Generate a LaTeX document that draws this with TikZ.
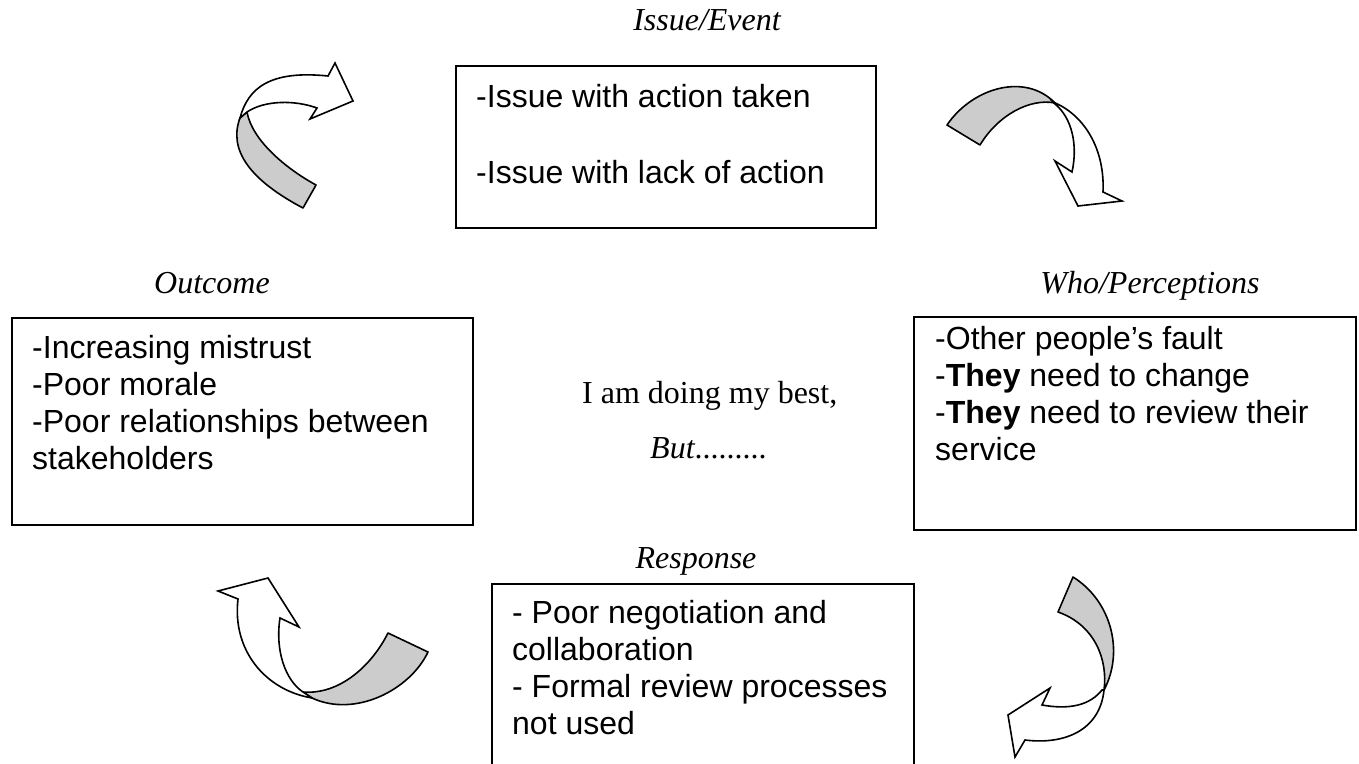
\documentclass[tikz,border=0pt]{standalone}
\usepackage{fontspec}
\setmainfont{Liberation Serif}
\newfontfamily\arialf{Liberation Sans}
\definecolor{foldgray}{RGB}{204,204,204}
\tikzset{
  box/.style={draw=black, line width=2pt, fill=white},
  btxt/.style={anchor=base west, inner sep=0pt, font=\arialf\fontsize{32}{37}\selectfont},
  lbl/.style={anchor=base, inner sep=0pt, font=\fontsize{32}{37}\selectfont\itshape},
  mid/.style={anchor=base west, inner sep=0pt, font=\fontsize{32}{37}\selectfont},
  back/.style={draw=black, line width=1.6pt, fill=foldgray, line join=round},
  front/.style={draw=black, line width=1.6pt, fill=white, line join=miter}
}
\begin{document}
\begin{tikzpicture}[x=1pt,y=-1pt]
\useasboundingbox (0,0) rectangle (1359,763);
\fill[white] (0,0) rectangle (1359,763);

% boxes
\draw[box] (456,66) rectangle (876,228);
\draw[box] (12,318) rectangle (473,525);
\draw[box] (914,317) rectangle (1356,530);
\draw[box] (492,584) rectangle (914,770);

% labels
\node[lbl] (lissue) at (707,30) {Issue/Event};
\node[lbl] (lout) at (212,293) {Outcome};
\node[lbl] (lwho) at (1150,293) {Who/Perceptions};
\node[lbl] (lresp) at (696,568) {Response};

% centre text
\node[mid] (m1) at (582,403) {I am doing my best,};
\node[mid] (m2) at (650,458) {\textit{But}.........};

% top box
\node[btxt] (t1) at (476,107) {-Issue with action taken};
\node[btxt] (t2) at (476,183) {-Issue with lack of action};

% outcome box
\node[btxt] (o1) at (32,358) {-Increasing mistrust};
\node[btxt] (o2) at (32,395) {-Poor morale};
\node[btxt] (o3) at (32,432) {-Poor relationships between};
\node[btxt] (o4) at (32,469) {stakeholders};

% who box
\node[btxt] (w1) at (935,349) {-Other people’s fault};
\node[btxt] (w2) at (935,386) {-\textbf{They} need to change};
\node[btxt] (w3) at (935,423) {-\textbf{They} need to review their};
\node[btxt] (w4) at (935,460) {service};

% response box
\node[btxt] (r1) at (512,623) {- Poor negotiation and};
\node[btxt] (r2) at (512,660) {collaboration};
\node[btxt] (r3) at (512,697) {- Formal review processes};
\node[btxt] (r4) at (512,734) {not used};

% arrow top-left
\draw[back] (316,185) .. controls (285,168) and (252,140) .. (247,112)
  -- (240,118) .. controls (228,150) and (250,180) .. (303,208) -- cycle;
\draw[front] (240,118) .. controls (248,88) and (270,70) .. (328,76)
  -- (335,63) -- (353,101) -- (310,119) -- (317,108)
  .. controls (295,100) and (265,100) .. (247,112) -- cycle;

% arrow top-right
\draw[back] (947,125) .. controls (972,88) and (1025,72) .. (1055,103)
  .. controls (1030,98) and (998,115) .. (980,145) -- cycle;
\draw[front] (1053,102) .. controls (1085,115) and (1105,150) .. (1103,192)
  -- (1122,201) -- (1078,206) -- (1055,161) -- (1072,172)
  .. controls (1078,145) and (1072,118) .. (1055,104) -- cycle;

% arrow bottom-right
\draw[back] (1073,577) .. controls (1110,600) and (1125,650) .. (1104,690)
  .. controls (1108,660) and (1095,625) .. (1058,612) -- cycle;
\draw[front] (1104,690) .. controls (1100,730) and (1065,745) .. (1025,740)
  -- (1015,757) -- (1008,715) -- (1050,688) -- (1042,705)
  .. controls (1070,710) and (1090,705) .. (1102,690) -- cycle;

% arrow bottom-left
\draw[back] (388,633) -- (428,652) .. controls (410,690) and (355,718) .. (312,698)
  -- (303,692) .. controls (340,695) and (372,665) .. (388,633) -- cycle;
\draw[front] (312,698) .. controls (265,690) and (232,650) .. (238,599)
  -- (218,591) -- (268,578) -- (299,627) -- (280,618)
  .. controls (275,650) and (285,680) .. (303,692) -- cycle;
\end{tikzpicture}
\end{document}
